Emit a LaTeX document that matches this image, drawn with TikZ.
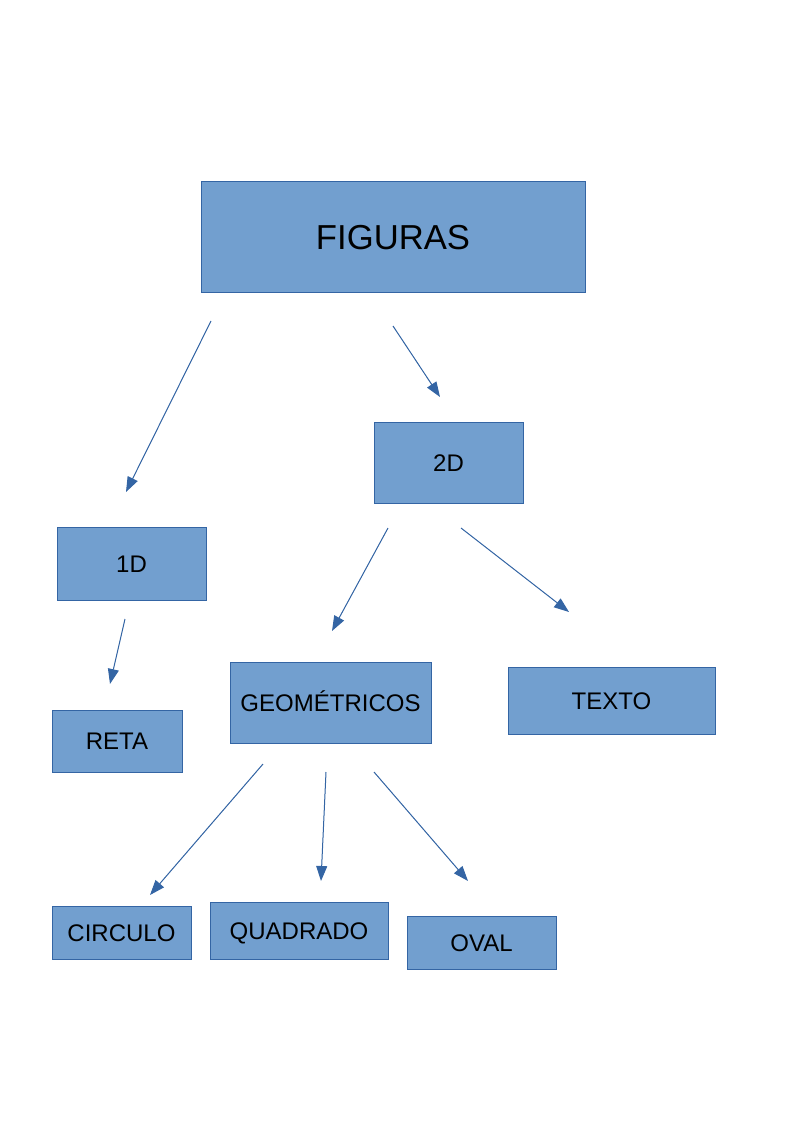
\documentclass[tikz,border=0pt]{standalone}
\usepackage{fontspec}
\setmainfont{Liberation Sans}
\usetikzlibrary{arrows.meta}
\definecolor{boxfill}{HTML}{729FCF}
\definecolor{boxline}{HTML}{3465A4}
\tikzset{%
  >={Triangle[length=11.25pt,width=8.25pt]}, % filled arrow heads
  inner sep=0pt,%
  outer sep=0pt,%
  figure box/.style 2 args={draw=boxline,fill=boxfill,line width=0.75pt,
    minimum width=#1*0.75pt,minimum height=#2*0.75pt,
    font=\fontsize{18pt}{22pt}\selectfont,text height=12.9pt,text depth=0pt},
  title box/.style={font=\fontsize{26pt}{30pt}\selectfont,text height=18.6pt},
  link/.style={->,draw=boxline,fill=boxline,line width=0.75pt}%
}
\begin{document}
\begin{tikzpicture}[x=0.75pt,y=-0.75pt]

%% page

\useasboundingbox (0,0) rectangle (794,1123);

%% boxes

\node[figure box={384}{110},title box] (figuras) at (393,237) {FIGURAS};
\node[figure box={149}{81}] (d2) at (448.5,462.5) {2D};
\node[figure box={149}{73}] (d1) at (131.5,563.5) {1D};
\node[figure box={130}{62}] (reta) at (117,741) {RETA};
\node[figure box={201}{81}] (geom) at (330.5,702.5) {GEOMÉTRICOS};
\node[figure box={207}{67}] (texto) at (611.5,700.5) {TEXTO};
\node[figure box={139}{53}] (circulo) at (121.5,932.5) {CIRCULO};
\node[figure box={178}{57}] (quadrado) at (299,930.5) {QUADRADO};
\node[figure box={149}{53}] (oval) at (481.5,942.5) {OVAL};

%% arrow ends (arrows float between the boxes)

\coordinate (figuras-1) at (211,321);
\coordinate (figuras-2) at (393,326);
\coordinate (d1-in) at (126,492);
\coordinate (d2-in) at (440,397);
\coordinate (d2-1) at (388,528);
\coordinate (d2-2) at (461,528);
\coordinate (geom-in) at (332,631);
\coordinate (texto-in) at (569,612);
\coordinate (d1-out) at (125,619);
\coordinate (reta-in) at (110,684);
\coordinate (geom-1) at (263,764);
\coordinate (geom-2) at (326,772);
\coordinate (geom-3) at (374,772);
\coordinate (circulo-in) at (150,895);
\coordinate (quadrado-in) at (321,881);
\coordinate (oval-in) at (468,881);

%% arrows

\draw[link] (figuras-1) -- (d1-in);
\draw[link] (figuras-2) -- (d2-in);
\draw[link] (d2-1) -- (geom-in);
\draw[link] (d2-2) -- (texto-in);
\draw[link] (d1-out) -- (reta-in);
\draw[link] (geom-1) -- (circulo-in);
\draw[link] (geom-2) -- (quadrado-in);
\draw[link] (geom-3) -- (oval-in);
\end{tikzpicture}
\end{document}
